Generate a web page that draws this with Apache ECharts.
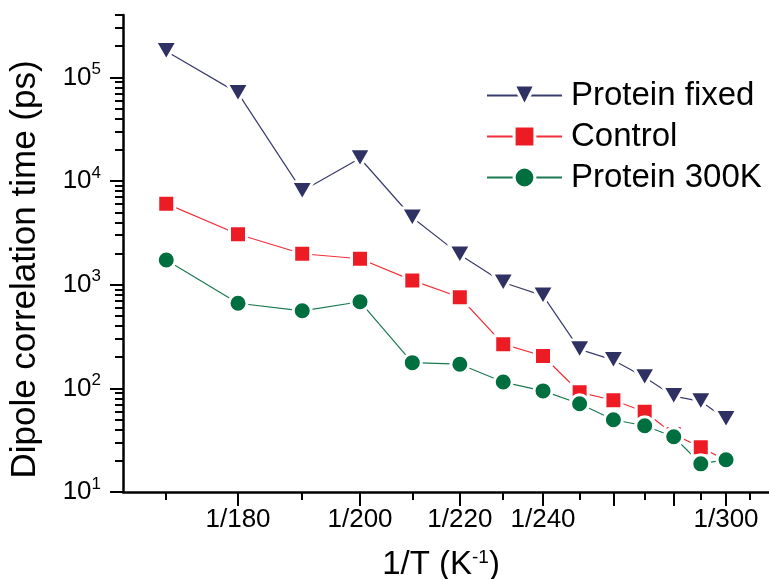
<!DOCTYPE html>
<html>
<head>
<meta charset="utf-8">
<script src="https://cdn.jsdelivr.net/npm/echarts@6/dist/echarts.min.js"></script>
<style>
  html, body { margin: 0; padding: 0; background: #fff; }
  #chart { width: 769px; height: 579px; }
</style>
</head>
<body>
<div id="chart"></div>
<script>
// Temperatures (K) of each simulation; plotted against 1/T
const temperatures = [170, 180, 190, 200, 210, 220, 230, 240, 250, 260, 270, 280, 290, 300];

// Dipole correlation times (ps)
const proteinFixed = [179000, 70500, 8000, 16600, 4450, 1950, 1050, 785, 238, 187, 128, 84, 75, 50.4];
const control      = [6050, 3070, 1990, 1780, 1100, 757, 267, 205, 91.6, 76.8, 59.4, 36, 27, 20.2];
const protein300K  = [1730, 662, 560, 685, 177, 171, 115, 94.5, 71, 49.8, 43.6, 34.1, 18.7, 20.5];

const seriesNames = ['Protein fixed', 'Control', 'Protein 300K'];

// Axis ticks, given as temperatures (x) and values (y)
const xMajorTickTemps = [180, 200, 220, 240, 260, 280, 300];
const xMinorTickTemps = [170, 190, 210, 230, 250, 270, 290, 310];
const xLabelTemps     = [180, 200, 220, 240, 300];
const yMajorTicks = [10, 100, 1000, 10000, 100000];
const yMinorTicks = [20, 30, 40, 50, 60, 70, 80, 90,
                     200, 300, 400, 500, 600, 700, 800, 900,
                     2000, 3000, 4000, 5000, 6000, 7000, 8000, 9000,
                     20000, 30000, 40000, 50000, 60000, 70000, 80000, 90000,
                     200000, 300000, 400000];

const FONT = 'Liberation Sans, Arial, sans-serif';
const inv = t => 1 / t;
const X_MIN = 0.0031376, X_MAX = 0.0060793;
const Y_MIN = 10, Y_MAX = 400000;

const pairs = vals => temperatures.map((t, i) => [inv(t), vals[i]]);

const baseX = {
  type: 'value', min: X_MIN, max: X_MAX, inverse: true,
  position: 'bottom', splitLine: { show: false }
};
const baseY = {
  type: 'log', logBase: 10, min: Y_MIN, max: Y_MAX,
  position: 'left', splitLine: { show: false }
};

const chart = echarts.init(document.getElementById('chart'), null, { renderer: 'canvas' });

chart.setOption({
  animation: false,
  backgroundColor: '#fff',
  grid: { left: 123, right: 0, top: 15, bottom: 87, containLabel: false, outerBoundsMode: 'none' },
  xAxis: [
    Object.assign({}, baseX, {
      name: '{a|1/T (K}{s|-1}{a|)}',
      nameLocation: 'middle',
      nameGap: 56,
      nameTextStyle: {
        padding: [0, 10, 0, 0],
        rich: {
          a: { fontSize: 33, fontFamily: FONT, color: '#000' },
          s: { fontSize: 19, fontFamily: FONT, color: '#000', padding: [0, 0, 14, 0] }
        }
      },
      axisLine: { show: true, lineStyle: { color: '#000', width: 2.5 } },
      axisTick: { show: true, inside: false, length: 14, lineStyle: { color: '#000', width: 2 },
                  customValues: xMajorTickTemps.map(inv) },
      axisLabel: {
        show: true, margin: 15, fontSize: 26, fontFamily: FONT, color: '#000',
        customValues: xLabelTemps.map(inv),
        formatter: v => '1/' + Math.round(1 / v)
      }
    }),
    Object.assign({}, baseX, {
      axisLine: { show: false },
      axisTick: { show: true, inside: false, length: 8, lineStyle: { color: '#000', width: 2 },
                  customValues: xMinorTickTemps.map(inv) },
      axisLabel: { show: false }
    })
  ],
  yAxis: [
    Object.assign({}, baseY, {
      name: 'Dipole correlation time (ps)',
      nameLocation: 'middle',
      nameGap: 80,
      nameTextStyle: { fontSize: 35, fontFamily: FONT, color: '#000', padding: [0, 32, 0, 0] },
      axisLine: { show: true, lineStyle: { color: '#000', width: 2.5 } },
      axisTick: { show: true, inside: false, length: 13, lineStyle: { color: '#000', width: 2 },
                  customValues: yMajorTicks },
      axisLabel: {
        show: true, margin: 22,
        customValues: yMajorTicks,
        formatter: v => '{b|10}{s|' + Math.round(Math.log10(v)) + '}',
        rich: {
          b: { fontSize: 26, fontFamily: FONT, color: '#000' },
          s: { fontSize: 17, fontFamily: FONT, color: '#000', padding: [0, 0, 16, 0] }
        }
      }
    }),
    Object.assign({}, baseY, {
      axisLine: { show: false },
      axisTick: { show: true, inside: false, length: 8, lineStyle: { color: '#000', width: 2 },
                  customValues: yMinorTicks },
      axisLabel: { show: false }
    })
  ],
  legend: {
    orient: 'vertical',
    left: 481, top: 74,
    itemWidth: 75, itemHeight: 26, itemGap: 8,
    data: seriesNames,
    itemStyle: { borderColor: '#fff', borderWidth: 3 },
    textStyle: { fontSize: 33, fontFamily: FONT, color: '#000', padding: [0, 0, 0, 4] }
  },
  series: [
    {
      name: seriesNames[0], type: 'line', data: pairs(proteinFixed),
      symbol: 'triangle', symbolRotate: 180, symbolSize: [22, 19],
      itemStyle: { color: '#2f3163', borderColor: '#fff', borderWidth: 3, borderJoin: 'round' },
      lineStyle: { color: '#3a3c6e', width: 1.2 }
    },
    {
      name: seriesNames[1], type: 'line', data: pairs(control),
      symbol: 'rect', symbolSize: 17,
      itemStyle: { color: '#ed1c24', borderColor: '#fff', borderWidth: 3 },
      lineStyle: { color: '#f0303a', width: 1.2 }
    },
    {
      name: seriesNames[2], type: 'line', data: pairs(protein300K),
      symbol: 'circle', symbolSize: 18,
      itemStyle: { color: '#006f40', borderColor: '#fff', borderWidth: 3 },
      lineStyle: { color: '#1a7a50', width: 1.2 }
    }
  ]
});
</script>
</body>
</html>
